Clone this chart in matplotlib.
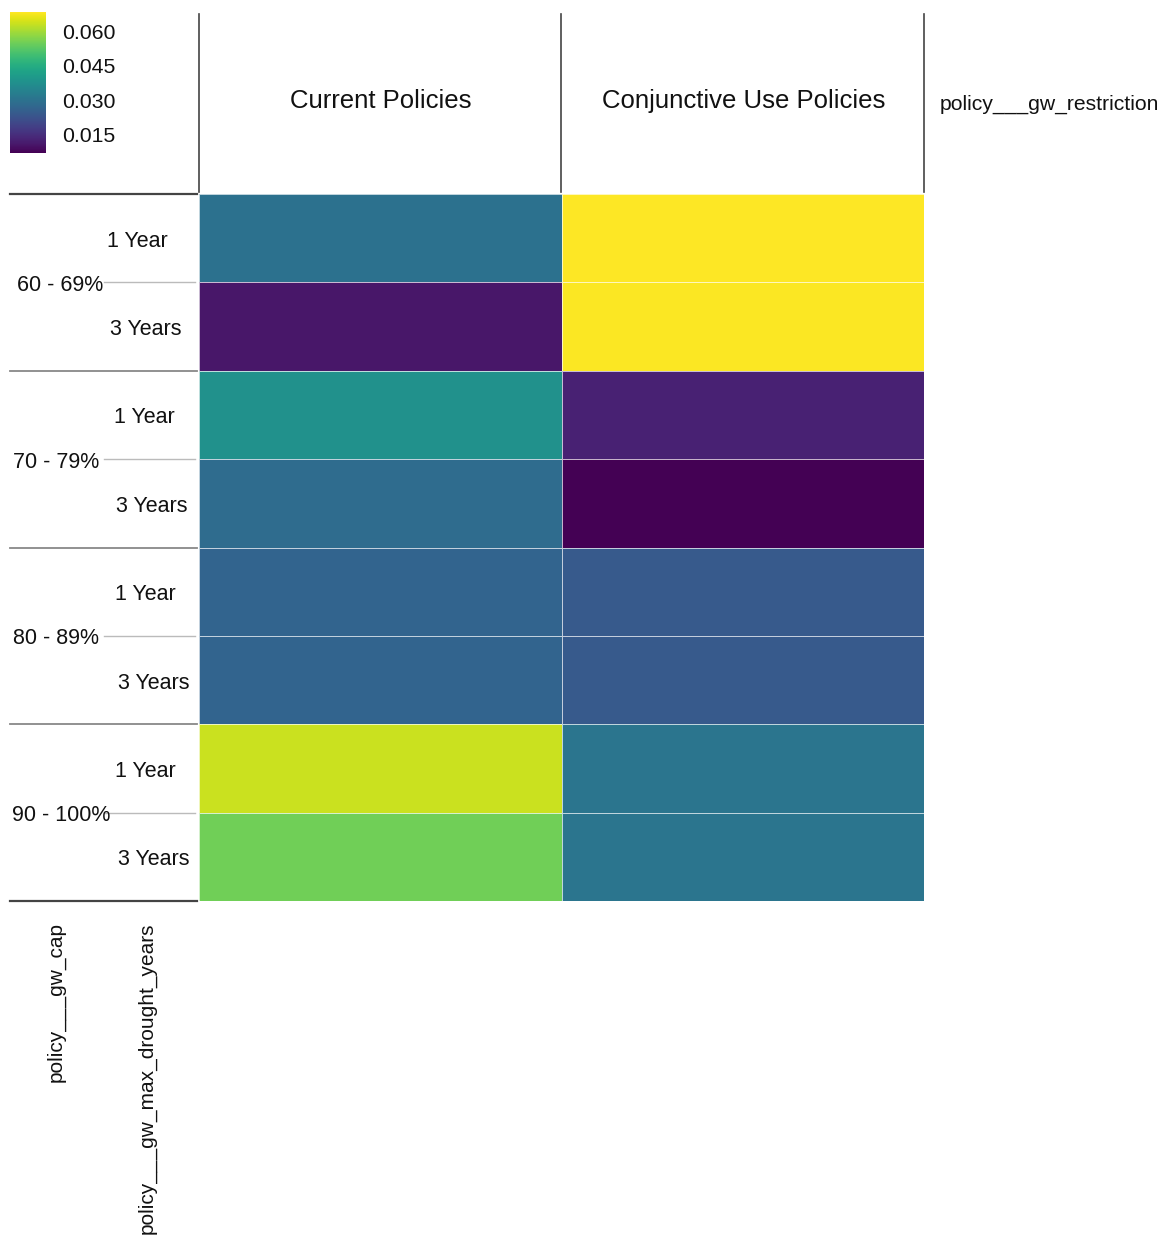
import matplotlib
matplotlib.use("Agg")
import matplotlib.pyplot as plt
import numpy as np
from matplotlib.lines import Line2D
from matplotlib.colors import Normalize

plt.rcParams['font.family'] = ['Liberation Sans', 'DejaVu Sans']

# Pivot-table data: mean outcome by groundwater policy combination
gw_restriction = ["Current Policies", "Conjunctive Use Policies"]
gw_cap = ["60 - 69%", "70 - 79%", "80 - 89%", "90 - 100%"]
drought_years = ["1 Year", "3 Years"]
current_policies = [0.0300, 0.0109, 0.0378, 0.0285, 0.0267, 0.0267, 0.0633, 0.0550]
conjunctive_use = [0.0683, 0.0680, 0.0127, 0.0072, 0.0243, 0.0243, 0.0310, 0.0310]
cbar_ticks = [0.015, 0.030, 0.045, 0.060]

W, H = 1162, 1235
fig = plt.figure(figsize=(W / 100, H / 100), dpi=100)
TXT = "#111111"


def fx(x):
    return x / W


def fy(y):
    return 1 - y / H


def hline(x0, x1, y, color, lw):
    fig.add_artist(Line2D([fx(x0), fx(x1)], [fy(y), fy(y)], color=color, lw=lw,
                          transform=fig.transFigure))


def vline(x, y0, y1, color, lw):
    fig.add_artist(Line2D([fx(x), fx(x)], [fy(y0), fy(y1)], color=color, lw=lw,
                          transform=fig.transFigure))


# Heatmap body
left, right, top, bottom = 199, 924, 194, 901
ax = fig.add_axes([fx(left), fy(bottom), fx(right - left), (bottom - top) / H])
values = np.column_stack([current_policies, conjunctive_use])
vmin, vmax = values.min(), values.max()
norm = Normalize(vmin=vmin, vmax=vmax)
ax.pcolormesh(values, cmap="viridis", norm=norm, edgecolors=(1, 1, 1, 0.7), linewidth=0.7)
ax.set_xlim(0, len(gw_restriction))
ax.set_ylim(len(values), 0)
ax.set_axis_off()

# Colorbar
cax = fig.add_axes([fx(10), fy(153), fx(36), (153 - 12) / H])
sm = plt.cm.ScalarMappable(norm=norm, cmap="viridis")
cb = fig.colorbar(sm, cax=cax, ticks=cbar_ticks)
cb.outline.set_visible(False)
cb.ax.tick_params(length=0, labelsize=15.3, pad=11.5, colors=TXT)
cb.ax.set_yticklabels([f"{t:.3f}" for t in cbar_ticks])

# Column header
col_x = [left, 561, right]
for x in col_x:
    vline(x, 14, 192, "#444444", 1.2)
for i, name in enumerate(gw_restriction):
    fig.text(fx((col_x[i] + col_x[i + 1]) / 2 + 1), fy(101), name, ha="center", va="center",
             fontsize=18.5, color=TXT)
fig.text(fx(940), fy(104), "policy___gw_restriction", ha="left", va="center",
         fontsize=15.2, color=TXT)

# Row header
row_h = (bottom - top) / len(values)
hline(10, 197, top, "#444444", 1.6)
one_right = [168, 175, 176, 176]
three_right = [181, 187, 189, 189]
group_x = [17, 13, 13, 12]
dy = 3  # text baseline nudge
for g, cap in enumerate(gw_cap):
    y0 = top + 2 * g * row_h
    ymid = y0 + row_h
    y1 = y0 + 2 * row_h
    hline(104, 195, ymid, "#bbbbbb", 1.0)
    fig.text(fx(group_x[g]), fy(ymid + dy), cap, ha="left", va="center", fontsize=15.5, color=TXT)
    last = g == len(gw_cap) - 1
    hline(10, 197, y1, "#444444" if last else "#888888", 1.6 if last else 1.3)
    fig.text(fx(one_right[g]), fy(y0 + row_h / 2 + dy), drought_years[0], ha="right",
             va="center", fontsize=15.5, color=TXT)
    fig.text(fx(three_right[g]), fy(y0 + 1.5 * row_h + dy), drought_years[1], ha="right",
             va="center", fontsize=15.5, color=TXT)

# Row-level field names
fig.text(fx(56), fy(922), "policy___gw_cap", rotation=90, ha="center", va="top",
         fontsize=15, color=TXT)
fig.text(fx(147), fy(922), "policy___gw_max_drought_years", rotation=90, ha="center",
         va="top", fontsize=15, color=TXT)

fig.savefig("out.png", dpi=100, facecolor="white")
